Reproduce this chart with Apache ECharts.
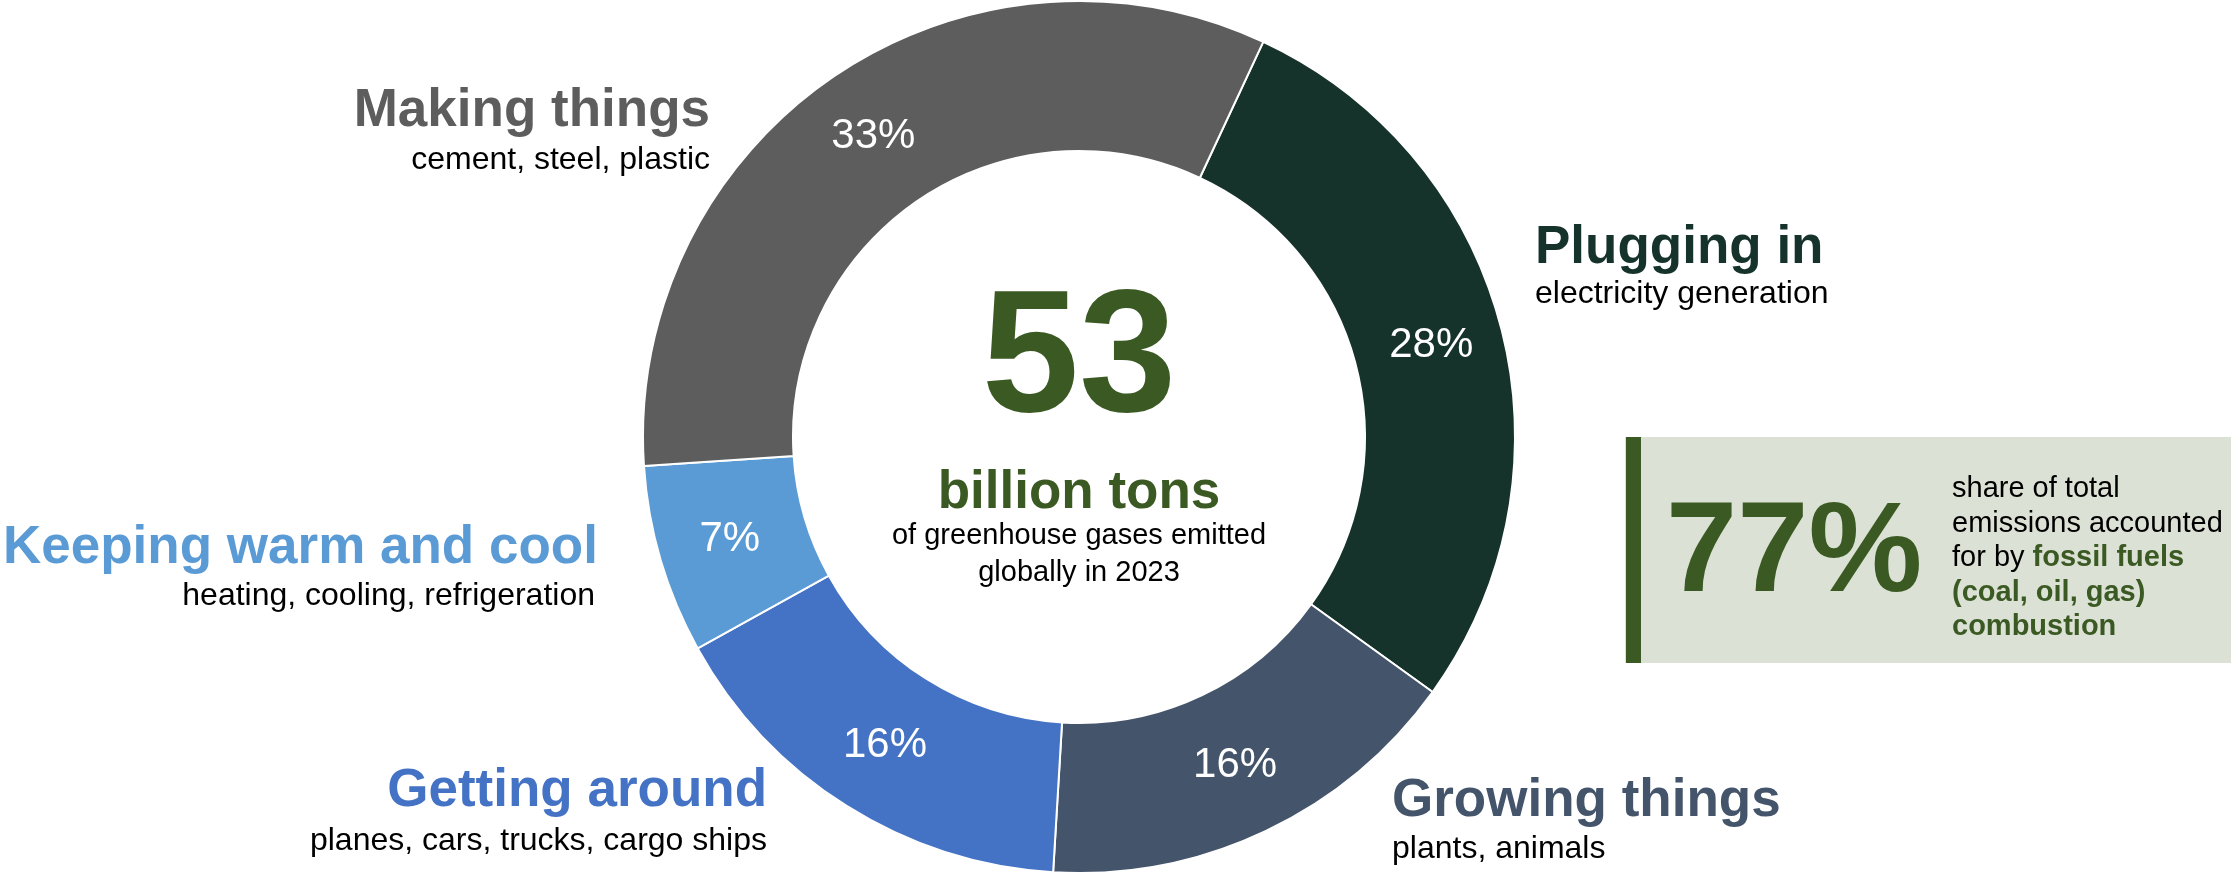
<!DOCTYPE html>
<html>
<head>
<meta charset="utf-8">
<script src="https://cdn.jsdelivr.net/npm/echarts@6/dist/echarts.min.js"></script>
<style>
  html, body { margin: 0; padding: 0; background: #fff; }
  #chart { width: 2231px; height: 873px; }
</style>
</head>
<body>
<div id="chart"></div>
<script>
// sectors, clockwise from the top-right
const sectors = ['Plugging in', 'Growing things', 'Getting around', 'Keeping warm and cool', 'Making things']
const subtitles = ['electricity generation', 'plants, animals', 'planes, cars, trucks, cargo ships', 'heating, cooling, refrigeration', 'cement, steel, plastic']
const shares = [28, 16, 16, 7, 33]
const colors = ['#15322b', '#44546a', '#4472c4', '#5b9bd5', '#5d5d5d']

const totalTons = '53'
const fossilShare = '77%'

const font = '"Liberation Sans", Arial, sans-serif'
const green = '#3b5a23'

// where each sector's heading sits: [x, y of title middle, align]
const headPos = [
  [1535, 248, 'left'],
  [1392, 801, 'left'],
  [767, 791, 'right'],
  [3, 548, 'left'],
  [710, 111, 'right']
]
// subtitle placement [x, y middle, align]
const subPos = [
  [1535, 294, 'left'],
  [1392, 849, 'left'],
  [767, 841, 'right'],
  [595, 596, 'right'],
  [710, 160, 'right']
]

const chart = echarts.init(document.getElementById('chart'))

const graphics = []
sectors.forEach((name, i) => {
  graphics.push({
    type: 'text',
    style: {
      text: name, x: headPos[i][0], y: headPos[i][1],
      fill: colors[i], font: 'bold 53px ' + font,
      textAlign: headPos[i][2], textVerticalAlign: 'middle'
    }
  })
  graphics.push({
    type: 'text',
    style: {
      text: subtitles[i], x: subPos[i][0], y: subPos[i][1],
      fill: '#000', font: '32px ' + font,
      textAlign: subPos[i][2], textVerticalAlign: 'middle'
    }
  })
})

// center block
graphics.push(
  { type: 'text', style: { text: totalTons, x: 1079, y: 363, fill: green, font: 'bold 175px ' + font, textAlign: 'center', textVerticalAlign: 'middle' } },
  { type: 'text', style: { text: 'billion tons', x: 1079, y: 493, fill: green, font: 'bold 53px ' + font, textAlign: 'center', textVerticalAlign: 'middle' } },
  { type: 'text', style: { text: 'of greenhouse gases emitted', x: 1079, y: 536, fill: '#000', font: '29px ' + font, textAlign: 'center', textVerticalAlign: 'middle' } },
  { type: 'text', style: { text: 'globally in 2023', x: 1079, y: 573, fill: '#000', font: '29px ' + font, textAlign: 'center', textVerticalAlign: 'middle' } }
)

// fossil fuel callout
graphics.push(
  { type: 'rect', shape: { x: 1625, y: 437, width: 606, height: 226 }, style: { fill: '#dce1d5' } },
  { type: 'rect', shape: { x: 1626, y: 437, width: 15, height: 226 }, style: { fill: green } },
  { type: 'text', style: { text: fossilShare, x: 1666, y: 556, fill: green, font: 'bold 128px ' + font, textAlign: 'left', textVerticalAlign: 'middle' } },
  {
    type: 'text',
    style: {
      text: 'share of total\nemissions accounted\nfor by {g|fossil fuels}\n{g|(coal, oil, gas)}\n{g|combustion}',
      x: 1952, y: 558,
      fill: '#000', font: '29px ' + font, lineHeight: 34.5,
      textAlign: 'left', textVerticalAlign: 'middle',
      rich: {
        g: { fill: green, fontWeight: 'bold', fontSize: 29, fontFamily: font, lineHeight: 34.5 }
      }
    }
  }
)

chart.setOption({
  animation: false,
  graphic: graphics,
  series: [
    {
      type: 'pie',
      center: [1079, 437],
      radius: [286, 436],
      startAngle: 65,
      clockwise: true,
      silent: true,
      itemStyle: { borderColor: '#fff', borderWidth: 2 },
      label: {
        show: true,
        position: 'inside',
        formatter: '{c}%',
        color: '#fff',
        fontSize: 42,
        fontFamily: font
      },
      labelLine: { show: false },
      data: sectors.map((name, i) => ({
        name: name,
        value: shares[i],
        itemStyle: { color: colors[i] }
      }))
    }
  ]
})
</script>
</body>
</html>
